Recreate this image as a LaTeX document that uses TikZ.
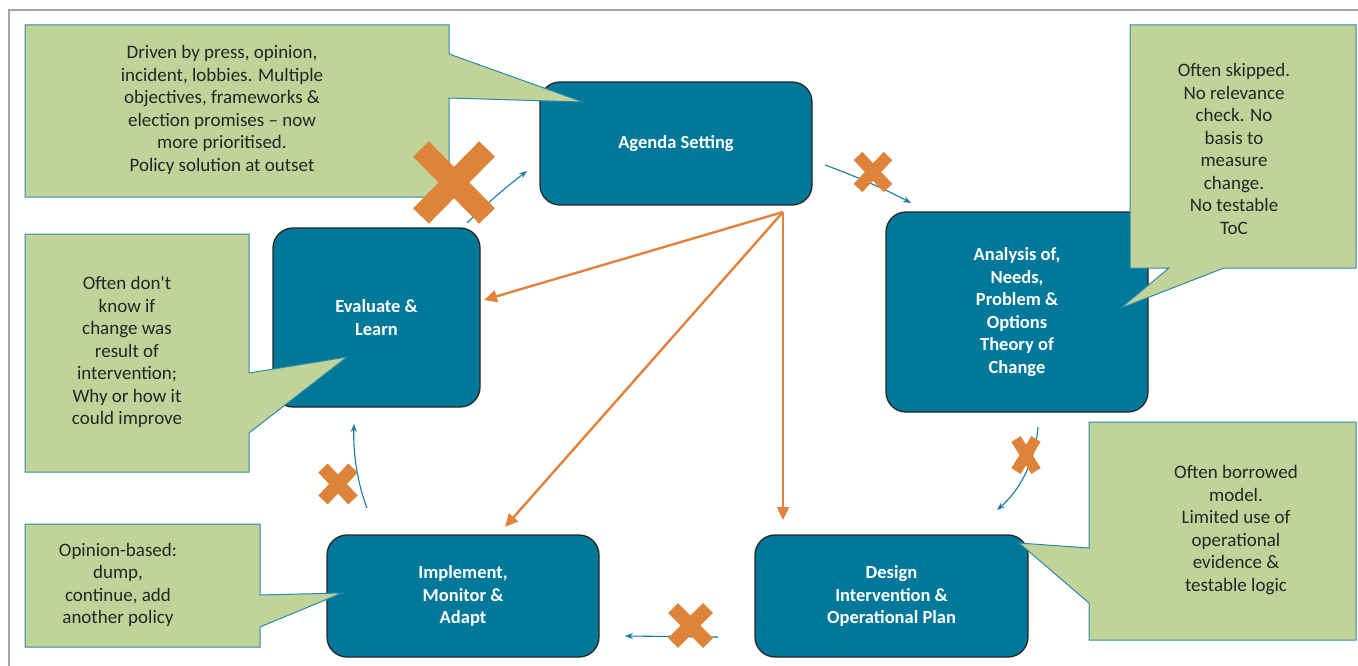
\documentclass[tikz,border=0pt]{standalone}
\usepackage{fontspec}
\setmainfont{Carlito}[Ligatures=TeXOff]
\usetikzlibrary{arrows.meta}
\definecolor{boxteal}{RGB}{0,120,154}
\definecolor{calgreen}{RGB}{193,211,153}
\definecolor{calline}{RGB}{40,138,170}
\definecolor{xorange}{RGB}{222,132,58}
\definecolor{aorange}{RGB}{226,130,60}
\definecolor{cline}{RGB}{20,125,160}
\definecolor{txt}{RGB}{38,38,38}
\tikzset{
  stagebox/.style={draw=txt, line width=1.3pt, fill=boxteal, rounded corners=20pt,
    text=white, font=\fontsize{18.5}{22.5}\selectfont\bfseries, align=center, inner sep=0pt},
  callshape/.style={draw=calline, line width=1pt, fill=calgreen},
  calltext/.style={text=txt, font=\fontsize{19}{22.5}\selectfont, align=center, inner sep=0pt},
  flow/.style={draw=cline, line width=1.1pt, -{Stealth[length=8pt,width=6pt]}},
  hubarrow/.style={draw=aorange, line width=2.4pt, -{Triangle[length=13pt,width=12pt]}},
  crossbar/.style={draw=xorange, line cap=butt}
}
\begin{document}
\begin{tikzpicture}[x=1pt,y=-1pt]
\useasboundingbox (0,0) rectangle (1358,666);
% frame
\draw[gray!70, line width=1.3pt] (9,666) -- (9,10) -- (1358,10);

% stage boxes
\node[stagebox, minimum width=272pt, minimum height=123pt] (agenda) at (676,143.5) {Agenda Setting};
\node[stagebox, minimum width=262pt, minimum height=200pt] (analysis) at (1017,312) {Analysis of,\\Needs,\\Problem \&\\Options\\Theory of\\Change};
\node[stagebox, minimum width=207pt, minimum height=179pt] (evaluate) at (376.5,317.5) {Evaluate \&\\Learn};
\node[stagebox, minimum width=272pt, minimum height=122pt] (implement) at (463,596) {Implement,\\Monitor \&\\Adapt};
\node[stagebox, minimum width=273pt, minimum height=122pt] (design) at (891.5,596) {Design\\Intervention \&\\Operational Plan};

% callouts
\draw[callshape] (25,25) -- (449,25) -- (449,54) -- (583,102) -- (449,98) -- (449,197) -- (25,197) -- cycle;
\node[calltext] (c1) at (222,110) {Driven by press, opinion,\\incident, lobbies. Multiple\\objectives, frameworks \&\\election promises – now\\more prioritised.\\Policy solution at outset};

\draw[callshape] (1130,25) -- (1356,25) -- (1356,268) -- (1224,268) -- (1121,308) -- (1169,268) -- (1130,268) -- cycle;
\node[calltext] (c2) at (1234,149) {Often skipped.\\No relevance\\check. No\\basis to\\measure\\change.\\No testable\\ToC};

\draw[callshape] (25,234) -- (249,234) -- (249,373) -- (347,357) -- (249,433) -- (249,472) -- (25,472) -- cycle;
\node[calltext] (c3) at (127,352) {Often don't\\know if\\change was\\result of\\intervention;\\Why or how it\\could improve};

\draw[callshape] (25,524) -- (260,524) -- (260,595) -- (342,593) -- (260,627) -- (260,647) -- (25,647) -- cycle;
\node[calltext] (c4) at (118,585) {Opinion-based:\\dump,\\continue, add\\another policy};

\draw[callshape] (1089,422) -- (1356,422) -- (1356,640) -- (1089,640) -- (1089,603) -- (1019,543) -- (1089,548) -- cycle;
\node[calltext] (c5) at (1236,530) {Often borrowed\\model.\\Limited use of\\operational\\evidence \&\\testable logic};

% orange hub arrows
\coordinate (hub) at (783,212);
\coordinate (toEval) at (484,300);
\coordinate (toImpl) at (505,527);
\coordinate (toDesign) at (783,520);
\draw[hubarrow] (hub) -- (toEval);
\draw[hubarrow] (hub) -- (toImpl);
\draw[hubarrow] (hub) -- (toDesign);

% blue cycle connectors
\coordinate (f1a) at (467,223); \coordinate (f1b) at (527,171);
\coordinate (f2a) at (825,165); \coordinate (f2b) at (911,203);
\coordinate (f3a) at (1038,427); \coordinate (f3b) at (997,510);
\coordinate (f4a) at (718,637); \coordinate (f4b) at (625,636);
\coordinate (f5a) at (367,508); \coordinate (f5b) at (354,424);
\draw[flow] (f1a) .. controls (485,205) and (505,188) .. (f1b);
\draw[flow] (f2a) .. controls (855,176) and (885,189) .. (f2b);
\draw[flow] (f3a) .. controls (1035,462) and (1020,490) .. (f3b);
\draw[flow] (f4a) -- (f4b);
\draw[flow] (f5a) .. controls (357,482) and (353,452) .. (f5b);

% orange crosses
\draw[crossbar, line width=22pt] (421,149) -- (487,216) (487,149) -- (421,216);
\draw[crossbar, line width=12pt] (858,156) -- (888,188) (888,156) -- (858,188);
\draw[crossbar, line width=11pt] (1016,439) -- (1036,471) (1036,439) -- (1016,471);
\draw[crossbar, line width=13pt] (323,468) -- (353,500) (353,468) -- (323,500);
\draw[crossbar, line width=14pt] (673,608) -- (708,643) (708,608) -- (673,643);
\end{tikzpicture}
\end{document}
